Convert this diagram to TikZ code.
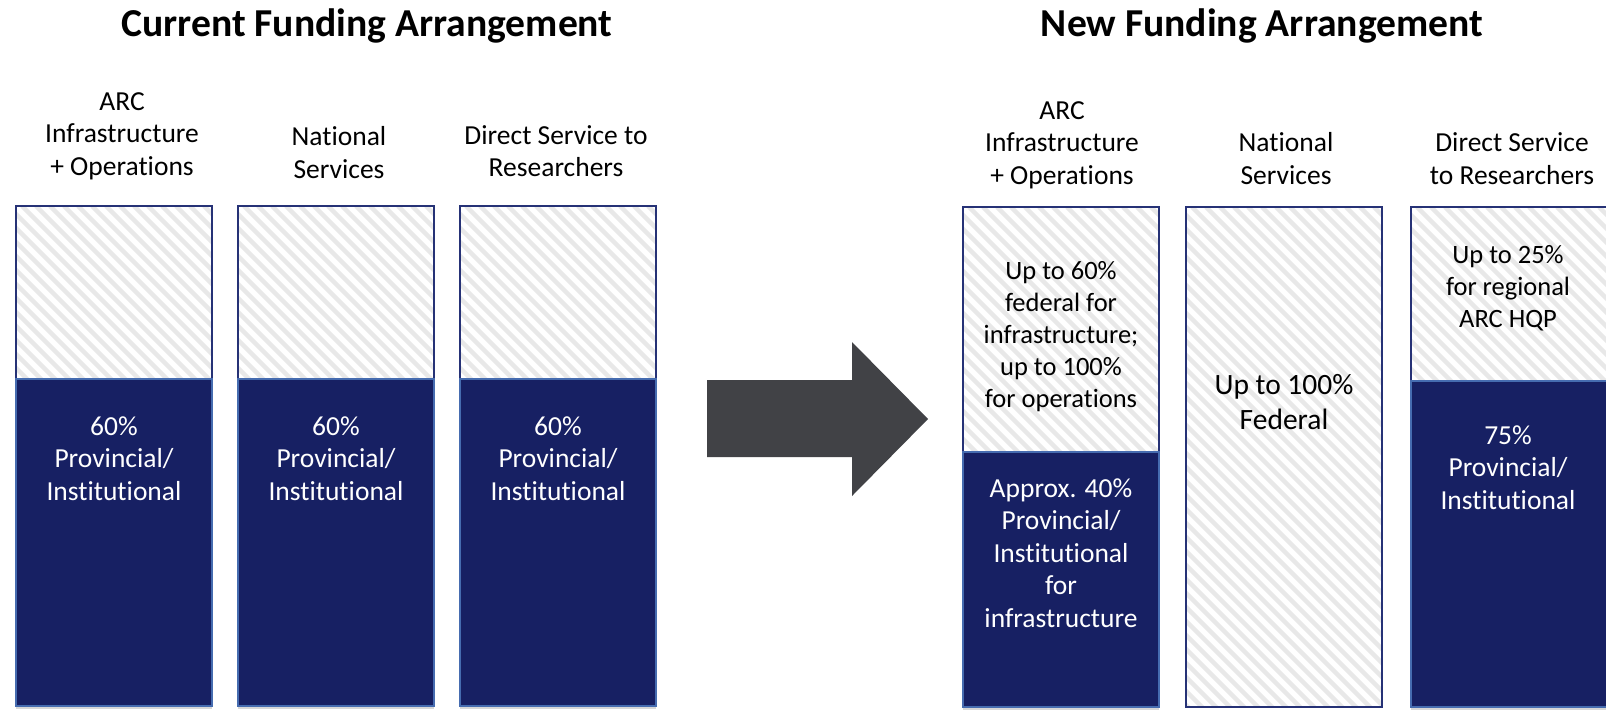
\documentclass[tikz,border=0pt]{standalone}
\usepackage{fontspec}
\setmainfont{Carlito}[Ligatures=NoCommon]
\usetikzlibrary{shadows}
\definecolor{navy}{RGB}{23,32,99}
\definecolor{navyedge}{RGB}{70,108,176}
\definecolor{hatchedge}{RGB}{38,50,118}
\definecolor{hatchline}{RGB}{232,232,232}
\definecolor{arrowgray}{RGB}{65,66,70}
\newcommand\hatchrect[4]{%
  \begin{scope}
    \clip (#1,#2) rectangle (#3,#4);
    \fill[white] (#1,#2) rectangle (#3,#4);
    \foreach \k in {0,...,62} {\draw[hatchline, line width=4.3pt] ({#1-540+\k*14},#2) -- ++(540,540);}
  \end{scope}
  \draw[hatchbox] (#1,#2) rectangle (#3,#4);
}
\begin{document}
\begin{tikzpicture}[x=1pt,y=-1pt,
  lbl/.style={font=\fontsize{27.5}{32.5}\selectfont, align=center, anchor=base, inner sep=0pt},
  big/.style={font=\fontsize{29.5}{35}\selectfont, align=center, anchor=base, inner sep=0pt},
  ttl/.style={font=\fontsize{39.6}{46}\selectfont\bfseries, anchor=base, inner sep=0pt},
  wlbl/.style={lbl, text=white},
  dark/.style={fill=navy, draw=navyedge, line width=1.5pt, drop shadow={opacity=0.3, shadow xshift=0pt, shadow yshift=-3pt}},
  hatchbox/.style={draw=hatchedge, line width=1.2pt},
]
\useasboundingbox (0,0) rectangle (1606,713);
\fill[white] (0,0) rectangle (1606,713);

% titles
\node[ttl] (t1) at (367,36) {Current Funding Arrangement};
\node[ttl] (t2) at (1262,36) {New Funding Arrangement};

% current arrangement bars
\hatchrect{16}{206}{212}{706}
\hatchrect{238}{206}{434}{706}
\hatchrect{460}{206}{656}{706}
\draw[dark] (16,379) rectangle (212,706);
\draw[dark] (238,379) rectangle (434,706);
\draw[dark] (460,379) rectangle (656,706);

% new arrangement bars
\hatchrect{963}{207}{1159}{707}
\hatchrect{1186}{207}{1382}{707}
\hatchrect{1411}{207}{1612}{707}
\draw[dark] (963,452) rectangle (1159,707);
\draw[dark] (1411,381) rectangle (1612,707);

% arrow
\fill[arrowgray] (707,380) -- (852,380) -- (852,342) -- (928,419) -- (852,496) -- (852,457) -- (707,457) -- cycle;

% headers (anchor = baseline of last line)
\node[lbl] (h1) at (122,175) {ARC\\Infrastructure\\+ Operations};
\node[lbl] (h2) at (339,178) {National\\Services};
\node[lbl] (h3) at (556,176.5) {Direct Service to\\Researchers};
\node[lbl] (h4) at (1062,184) {ARC\\Infrastructure\\+ Operations};
\node[lbl] (h5) at (1286,184) {National\\Services};
\node[lbl] (h6) at (1512,184) {Direct Service\\to Researchers};

% bar texts
\node[wlbl] (d1) at (114,500) {60\%\\Provincial/\\Institutional};
\node[wlbl] (d2) at (336,500) {60\%\\Provincial/\\Institutional};
\node[wlbl] (d3) at (558,500) {60\%\\Provincial/\\Institutional};
\node[lbl, font=\fontsize{26.5}{31.8}\selectfont] (f4) at (1061,407) {Up to 60\%\\federal for\\infrastructure;\\up to 100\%\\for operations};
\node[wlbl] (d4) at (1061,627) {Approx. 40\%\\Provincial/\\Institutional\\for\\infrastructure};
\node[big] (f5) at (1284,429.5) {Up to 100\%\\Federal};
\node[lbl, font=\fontsize{26.5}{31.8}\selectfont] (f6) at (1508,327.5) {Up to 25\%\\for regional\\ARC HQP};
\node[wlbl] (d6) at (1508,509) {75\%\\Provincial/\\Institutional};
\end{tikzpicture}
\end{document}
